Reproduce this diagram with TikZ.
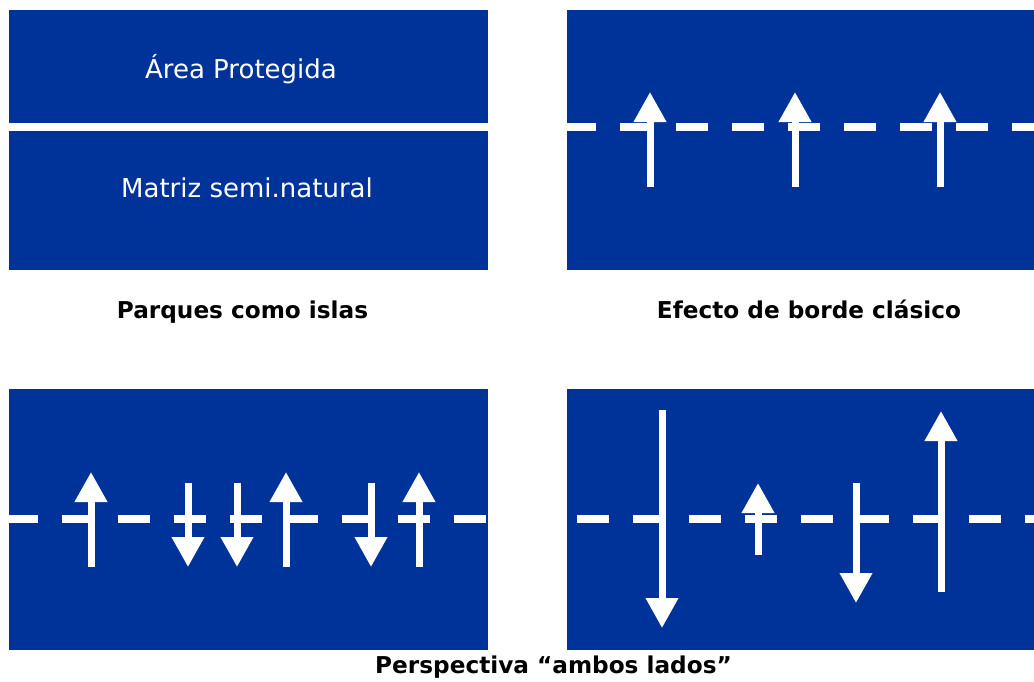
\documentclass[tikz,border=0pt]{standalone}
\usepackage{fontspec}
\setmainfont{DejaVu Sans}
\usepackage{xcolor}
\usepackage{tikz}
\usetikzlibrary{arrows.meta}
\definecolor{panelblue}{RGB}{0,51,153}

\tikzset{
  edgeline/.style={white, line width=0.16cm, dash pattern=on 0.64cm off 0.48cm},
  flow/.style={white, line width=0.14cm, -{Triangle[width=0.62cm,length=0.6cm]}},
  inlabel/.style={white, anchor=base, inner sep=0pt, font=\fontsize{14.8}{17}\selectfont},
  caption/.style={black, anchor=base, inner sep=0pt, font=\bfseries\fontsize{13.2}{16}\selectfont}
}

\begin{document}
\begin{tikzpicture}[x=0.02cm,y=-0.02cm]
\useasboundingbox (0,0) rectangle (1034,681);

\fill[panelblue] (9,10) rectangle (488,123);
\fill[panelblue] (9,131) rectangle (488,270);
\node[inlabel] (area) at (241,78) {Área Protegida};
\node[inlabel] (matriz) at (247,197) {Matriz semi.natural};

\fill[panelblue] (567,10) rectangle (1034,270);
\draw[edgeline, dash phase=0.06cm] (567,127) -- (1034,127);
\foreach \x in {650,795,940}
  \draw[flow] (\x,187) -- (\x,92);

\node[caption] (islas) at (242.5,318) {Parques como islas};
\node[caption] (borde) at (809,318) {Efecto de borde clásico};

\fill[panelblue] (9,389) rectangle (488,650);
\draw[edgeline, dash phase=0.06cm] (9,519) -- (488,519);
\foreach \x in {91,286,419}
  \draw[flow] (\x,567) -- (\x,472);
\foreach \x in {188,237,371}
  \draw[flow] (\x,483) -- (\x,567);

\fill[panelblue] (567,389) rectangle (1034,650);
\draw[edgeline] (577,519) -- (1034,519);
\draw[flow] (662,410) -- (662,628);
\draw[flow] (758,555) -- (758,483);
\draw[flow] (856,483) -- (856,603);
\draw[flow] (941,592) -- (941,411);

\node[caption] (ambos) at (553.5,673) {Perspectiva “ambos lados”};
\end{tikzpicture}
\end{document}
